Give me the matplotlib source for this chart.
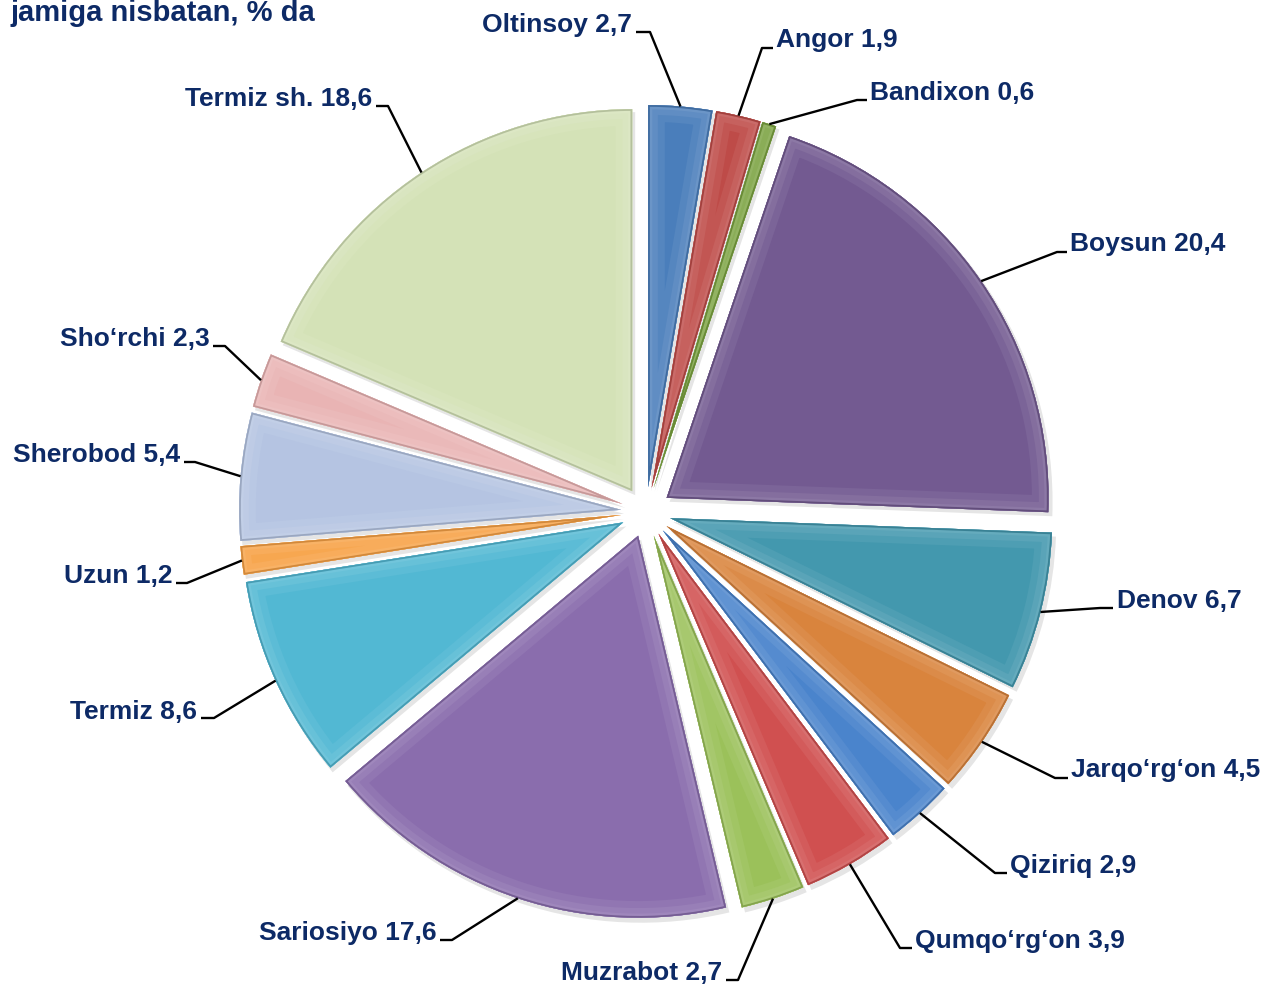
import numpy as np
import matplotlib
matplotlib.use("Agg")
import matplotlib.pyplot as plt
from matplotlib.patches import Wedge
from matplotlib.colors import to_rgb

# data, clockwise from the top
names = ["Oltinsoy", "Angor", "Bandixon", "Boysun", "Denov", "Jarqo\u2018rg\u2018on",
         "Qiziriq", "Qumqo\u2018rg\u2018on", "Muzrabot", "Sariosiyo", "Termiz",
         "Uzun", "Sherobod", "Sho\u2018rchi", "Termiz sh."]
values = [2.7, 1.9, 0.6, 20.4, 6.7, 4.5, 2.9, 3.9, 2.7, 17.6, 8.6, 1.2, 5.4, 2.3, 18.6]
colors = ["#4A7EBB", "#BE4B48", "#7AA240", "#735A91", "#4398AE", "#D9843D",
          "#4A84CC", "#D05050", "#9BC15A", "#8A6DAD", "#52B8D3", "#F7A145",
          "#B5C4E2", "#E9B4B4", "#D4E2B7"]

# label layout (pixel coords, y down): elbow point, line end, text x, baseline, side
lab_pos = [
    ((650, 32), 636, 632, 32, "r"),
    ((762, 48), 773, 776, 47, "l"),
    ((857, 100), 867, 870, 100, "l"),
    ((1057, 252), 1067, 1070, 251, "l"),
    ((1100, 608), 1113, 1117, 608, "l"),
    ((1055, 778), 1068, 1071, 777, "l"),
    ((995, 873), 1007, 1010, 873, "l"),
    ((900, 948), 912, 915, 948, "l"),
    ((738, 980), 726, 722, 980, "r"),
    ((452, 940), 440, 437, 940, "r"),
    ((214, 718), 201, 197, 719, "r"),
    ((187, 583), 176, 172, 583, "r"),
    ((195, 462), 184, 180, 462, "r"),
    ((225, 346), 213, 210, 346, "r"),
    ((388, 106), 376, 372, 106, "r"),
]

W, H = 1273, 984
navy = "#0D2A66"
plt.rcParams["font.family"] = ["Liberation Sans", "DejaVu Sans"]

fig = plt.figure(figsize=(W / 100, H / 100), dpi=100)
ax = fig.add_axes([0, 0, 1, 1])

cx, cy = 646, H - 512
R = 382
gap = 25

wedges, _ = ax.pie(values, colors=colors, startangle=90, counterclock=False,
                   radius=R, center=(cx, cy), explode=[gap] * len(values),
                   wedgeprops=dict(linewidth=0), frame=True)
ax.set_xlim(0, W)
ax.set_ylim(0, H)
ax.set_aspect("equal")
ax.axis("off")


def shade(c, f):
    r, g, b = to_rgb(c)
    if f > 0:
        return (r + (1 - r) * f, g + (1 - g) * f, b + (1 - b) * f)
    return (r * (1 + f), g * (1 + f), b * (1 + f))


# soft bevel rim and shadow
for w, c in zip(wedges, colors):
    ax.add_patch(Wedge((w.center[0] + 3, w.center[1] - 4), w.r + 1, w.theta1, w.theta2,
                       facecolor="#000000", alpha=0.10, edgecolor="none", zorder=0))
    for lw, f in [(24, 0.06), (14, 0.12), (6, 0.18), (2.5, -0.15)]:
        rim = Wedge(w.center, w.r, w.theta1, w.theta2, facecolor="none",
                    edgecolor=shade(c, f), linewidth=lw,
                    zorder=w.get_zorder() + 0.1, joinstyle="miter")
        ax.add_patch(rim)
        rim.set_clip_path(w)

# labels with elbow leader lines
for w, name, v, (elb, xend, tx, tyb, side) in zip(wedges, names, values, lab_pos):
    mid = np.deg2rad((w.theta1 + w.theta2) / 2)
    px, py = w.center[0] + w.r * np.cos(mid), w.center[1] + w.r * np.sin(mid)
    ex, ey = elb[0], H - elb[1]
    ax.plot([px, ex, xend], [py, ey, ey], color="black", lw=1.7, zorder=5,
            solid_capstyle="butt")
    txt = f"{name} " + f"{v:.1f}".replace(".", ",")
    ha = "right" if side == "r" else "left"
    ax.text(tx, H - tyb, txt, ha=ha, va="baseline", fontsize=19, fontweight="bold",
            color=navy, zorder=6)

ax.text(10, H - 21, "jamiga nisbatan, % da", ha="left", va="baseline", fontsize=21,
        fontweight="bold", color=navy)

fig.savefig("out.png", dpi=100)
